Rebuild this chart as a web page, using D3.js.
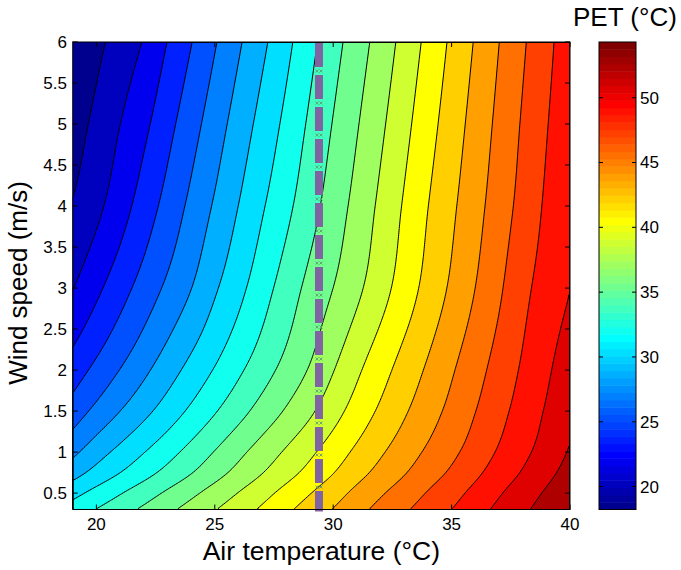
<!DOCTYPE html>
<html>
<head>
<meta charset="utf-8">
<script src="https://cdn.jsdelivr.net/npm/d3@7"></script>
<style>
  body { margin: 0; background: #fff; }
  svg { display: block; }
  text { font-family: "Liberation Sans", Arial, Helvetica, sans-serif; fill: #000; }
</style>
</head>
<body>
<svg id="chart" width="681" height="570"></svg>
<script>
// PET, one row per wind speed (m/s), columns = air temperature (°C)
var airTemp = [19, 20, 21, 22, 23, 24, 25, 26, 27, 28, 29, 30, 31, 32, 33, 34, 35, 36, 37, 38, 39, 40]
var windSpeed = [0.3, 0.5, 0.75, 1, 1.5, 2, 3, 4, 5, 6]
var petRows = [
  [32.74, 33.74, 34.72, 35.71, 36.73, 37.74, 38.76, 39.78, 40.82, 41.93, 43.00, 44.06, 45.17, 46.22, 47.19, 48.17, 49.15, 50.21, 51.25, 52.26, 53.28, 54.30],
  [31.41, 32.52, 33.57, 34.61, 35.67, 36.73, 37.81, 38.89, 39.97, 41.09, 42.19, 43.29, 44.43, 45.51, 46.52, 47.54, 48.54, 49.62, 50.70, 51.74, 52.79, 53.85],
  [29.55, 30.81, 31.96, 33.07, 34.19, 35.32, 36.48, 37.64, 38.78, 39.92, 41.06, 42.22, 43.40, 44.52, 45.59, 46.66, 47.69, 48.80, 49.92, 51.00, 52.10, 53.22],
  [28.14, 29.52, 30.74, 31.91, 33.07, 34.26, 35.48, 36.70, 37.88, 39.04, 40.21, 41.41, 42.62, 43.78, 44.89, 45.99, 47.05, 48.18, 49.34, 50.45, 51.58, 52.74],
  [25.89, 27.26, 28.53, 29.77, 31.03, 32.29, 33.55, 34.81, 36.06, 37.28, 38.53, 39.91, 41.27, 42.56, 43.79, 44.99, 46.18, 47.40, 48.63, 49.83, 51.02, 52.22],
  [24.20, 25.55, 26.86, 28.16, 29.49, 30.80, 32.09, 33.39, 34.68, 35.96, 37.26, 38.77, 40.26, 41.64, 42.96, 44.24, 45.53, 46.81, 48.10, 49.37, 50.59, 51.82],
  [21.60, 22.99, 24.40, 25.79, 27.15, 28.50, 30.03, 31.47, 32.97, 34.45, 35.88, 37.13, 38.47, 39.89, 41.37, 42.85, 44.28, 45.72, 47.17, 48.68, 49.85, 50.86],
  [20.05, 21.24, 22.64, 24.16, 25.69, 27.22, 28.74, 30.27, 31.79, 33.23, 34.73, 36.21, 37.67, 39.19, 40.73, 42.25, 43.68, 45.12, 46.56, 47.99, 49.40, 50.60],
  [19.14, 20.37, 21.65, 22.97, 24.55, 26.13, 27.71, 29.28, 30.83, 32.36, 33.94, 35.49, 36.99, 38.51, 40.07, 41.63, 43.13, 44.63, 46.13, 47.60, 49.04, 50.37],
  [18.23, 19.50, 20.65, 21.78, 23.41, 25.03, 26.67, 28.29, 29.87, 31.48, 33.15, 34.76, 36.30, 37.82, 39.41, 41.01, 42.58, 44.13, 45.69, 47.20, 48.67, 50.13]
]
var xTicks = [20, 25, 30, 35, 40]
var yTicks = [0.5, 1, 1.5, 2, 2.5, 3, 3.5, 4, 4.5, 5, 5.5, 6]
var cbTicks = [20, 25, 30, 35, 40, 45, 50]
var levelCount = 20      // contourf(..., 20)
var markerTemp = 29.4    // dashed reference line

var svg = d3.select('#chart')
var plotLeft = 72.7, plotRight = 570, plotTop = 42, plotBottom = 509.5
var plotW = plotRight - plotLeft, plotH = plotBottom - plotTop
var x = d3.scaleLinear().domain([19, 40]).range([plotLeft, plotRight])
var y = d3.scaleLinear().domain([0.3, 6]).range([plotBottom, plotTop])

var allPet = petRows.flat()
var cmin = d3.min(allPet), cmax = d3.max(allPet)
var levels = d3.range(1, levelCount + 1).map(function (k) {
  return cmin + k * (cmax - cmin) / (levelCount + 1)
})

// MATLAB jet(64)
function jet(m) {
  var n = Math.ceil(m / 4), u = [], i
  for (i = 1; i <= n; i++) u.push(i / n)
  for (i = 1; i < n; i++) u.push(1)
  for (i = n; i >= 1; i--) u.push(i / n)
  var g0 = Math.ceil(n / 2) - (m % 4 === 1 ? 1 : 0)
  var cmap = d3.range(m).map(function () { return [0, 0, 0] })
  u.forEach(function (val, k) {
    var g = g0 + k + 1, r = g + n, b = g - n
    if (r >= 1 && r <= m) cmap[r - 1][0] = val
    if (g >= 1 && g <= m) cmap[g - 1][1] = val
    if (b >= 1 && b <= m) cmap[b - 1][2] = val
  })
  return cmap.map(function (c) { return d3.rgb(c[0] * 255, c[1] * 255, c[2] * 255).formatHex() })
}
var jetMap = jet(64)
function colorOf(v) {
  var k = Math.floor((v - cmin) / (cmax - cmin) * 64 + 1e-9)
  return jetMap[Math.max(0, Math.min(63, k))]
}

// smooth (monotone cubic) lookup between table nodes, only to draw the field
function monotone(xs, ys) {
  var n = xs.length, h = [], s = [], m = new Array(n), k
  for (k = 0; k < n - 1; k++) {
    h[k] = xs[k + 1] - xs[k]
    s[k] = (ys[k + 1] - ys[k]) / h[k]
  }
  m[0] = s[0]
  m[n - 1] = s[n - 2]
  for (k = 1; k < n - 1; k++) {
    var p = (s[k - 1] * h[k] + s[k] * h[k - 1]) / (h[k - 1] + h[k])
    m[k] = (Math.sign(s[k - 1]) + Math.sign(s[k])) * Math.min(Math.abs(s[k - 1]), Math.abs(s[k]), 0.5 * Math.abs(p))
  }
  return function (t) {
    var i = Math.max(0, Math.min(n - 2, d3.bisectRight(xs, t) - 1))
    var u = (t - xs[i]) / h[i], u2 = u * u, u3 = u2 * u
    return (2 * u3 - 3 * u2 + 1) * ys[i] + (u3 - 2 * u2 + u) * h[i] * m[i] +
      (-2 * u3 + 3 * u2) * ys[i + 1] + (u3 - u2) * h[i] * m[i + 1]
  }
}

var cell = 2
var nx = Math.round(plotW / cell), ny = Math.round(plotH / cell)
var cw = plotW / nx, ch = plotH / ny
var colT = d3.range(nx).map(function (i) { return x.invert(plotLeft + (i + 0.5) * cw) })
var rowW = d3.range(ny).map(function (j) { return y.invert(plotTop + (j + 0.5) * ch) })
var rowFns = petRows.map(function (row) { return monotone(airTemp, row) })
var values = new Array(nx * ny)
colT.forEach(function (t, i) {
  var colFn = monotone(windSpeed, rowFns.map(function (f) { return f(t) }))
  rowW.forEach(function (w, j) { values[i + j * nx] = colFn(w) })
})
var bands = d3.contours().size([nx, ny]).thresholds(levels)(values)
var path = d3.geoPath(d3.geoTransform({
  point: function (px, py) { this.stream.point(plotLeft + px * cw, plotTop + py * ch) }
}))

svg.append('clipPath').attr('id', 'plotClip')
  .append('rect').attr('x', plotLeft).attr('y', plotTop).attr('width', plotW).attr('height', plotH)

var plot = svg.append('g').attr('clip-path', 'url(#plotClip)')
plot.append('rect')
  .attr('x', plotLeft).attr('y', plotTop).attr('width', plotW).attr('height', plotH)
  .attr('fill', colorOf(cmin))
plot.selectAll('path.band')
  .data(bands)
  .enter().append('path')
  .attr('class', 'band')
  .attr('d', path)
  .attr('fill', function (d) { return colorOf(d.value) })
plot.selectAll('path.line')
  .data(bands)
  .enter().append('path')
  .attr('class', 'line')
  .attr('d', path)
  .attr('fill', 'none')
  .attr('stroke', '#000')
  .attr('stroke-width', 1)

// dashed reference line with the little cross markers in its gaps
var mx = x(markerTemp)
svg.append('line')
  .attr('x1', mx).attr('x2', mx).attr('y1', plotTop + 1).attr('y2', plotBottom + 2)
  .attr('stroke', '#8064a2').attr('stroke-width', 8)
  .attr('stroke-dasharray', '24 8')
var gapY = d3.range(plotTop + 1 + 24 + 4, plotBottom + 4, 32)
var crosses = svg.append('g').attr('stroke', '#5f9c74').attr('stroke-width', 0.9).attr('fill', 'none')
gapY.forEach(function (gy) {
  [-2, 2].forEach(function (dx) {
    crosses.append('path')
      .attr('d', 'M' + (mx + dx - 1.5) + ',' + (gy - 1.5) + 'l3,3M' + (mx + dx - 1.5) + ',' + (gy + 1.5) + 'l3,-3')
  })
})

// axes box and inward ticks
var axes = svg.append('g').attr('stroke', '#000').attr('stroke-width', 1)
axes.append('rect')
  .attr('x', plotLeft).attr('y', plotTop).attr('width', plotW).attr('height', plotH)
  .attr('fill', 'none')
xTicks.forEach(function (t) {
  axes.append('line').attr('x1', x(t)).attr('x2', x(t)).attr('y1', plotBottom).attr('y2', plotBottom - 5)
  axes.append('line').attr('x1', x(t)).attr('x2', x(t)).attr('y1', plotTop).attr('y2', plotTop + 5)
})
yTicks.forEach(function (t) {
  axes.append('line').attr('x1', plotLeft).attr('x2', plotLeft + 5).attr('y1', y(t)).attr('y2', y(t))
  axes.append('line').attr('x1', plotRight).attr('x2', plotRight - 5).attr('y1', y(t)).attr('y2', y(t))
})

svg.selectAll('text.xt')
  .data(xTicks)
  .enter().append('text')
  .attr('class', 'xt')
  .attr('x', function (d) { return x(d) })
  .attr('y', 530)
  .attr('text-anchor', 'middle')
  .style('font-size', '17px')
  .text(function (d) { return d })
svg.selectAll('text.yt')
  .data(yTicks)
  .enter().append('text')
  .attr('class', 'yt')
  .attr('x', 67)
  .attr('y', function (d) { return y(d) })
  .attr('dy', '0.35em')
  .attr('text-anchor', 'end')
  .style('font-size', '17px')
  .text(function (d) { return d })

svg.append('text')
  .attr('x', (plotLeft + plotRight) / 2).attr('y', 560)
  .attr('text-anchor', 'middle')
  .style('font-size', '26.5px')
  .text('Air temperature (°C)')
svg.append('text')
  .attr('transform', 'translate(27,283) rotate(-90)')
  .attr('text-anchor', 'middle')
  .style('font-size', '26px')
  .text('Wind speed (m/s)')

// colorbar
var cbLeft = 599, cbRight = 636
var cbY = d3.scaleLinear().domain([cmin, cmax]).range([plotBottom, plotTop])
var cb = svg.append('g')
cb.selectAll('rect')
  .data(jetMap)
  .enter().append('rect')
  .attr('x', cbLeft)
  .attr('width', cbRight - cbLeft)
  .attr('y', function (d, i) { return plotBottom - (i + 1) * plotH / 64 })
  .attr('height', plotH / 64 + 0.5)
  .attr('fill', function (d) { return d })
cb.append('rect')
  .attr('x', cbLeft).attr('y', plotTop).attr('width', cbRight - cbLeft).attr('height', plotH)
  .attr('fill', 'none').attr('stroke', '#000')
cbTicks.forEach(function (t) {
  cb.append('line').attr('x1', cbLeft).attr('x2', cbLeft + 4).attr('y1', cbY(t)).attr('y2', cbY(t)).attr('stroke', '#000')
  cb.append('line').attr('x1', cbRight).attr('x2', cbRight - 4).attr('y1', cbY(t)).attr('y2', cbY(t)).attr('stroke', '#000')
})
cb.selectAll('text')
  .data(cbTicks)
  .enter().append('text')
  .attr('x', cbRight + 4)
  .attr('y', function (d) { return cbY(d) })
  .attr('dy', '0.35em')
  .style('font-size', '17px')
  .text(function (d) { return d })
svg.append('text')
  .attr('x', 573).attr('y', 26)
  .style('font-size', '26px')
  .text('PET (°C)')
</script>
</body>
</html>
